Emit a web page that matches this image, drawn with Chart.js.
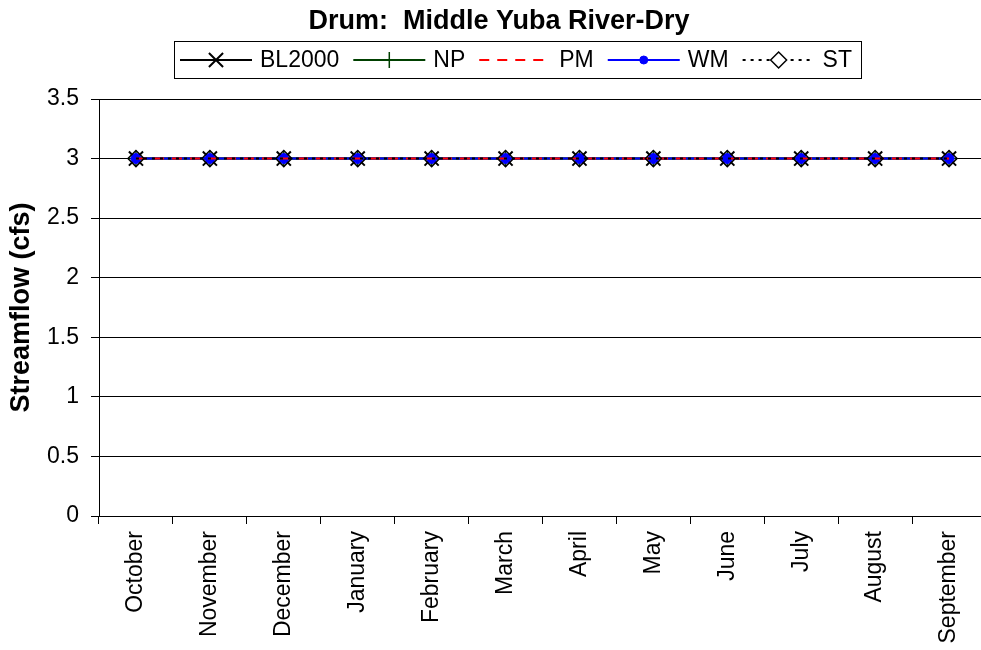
<!DOCTYPE html>
<html><head><meta charset="utf-8">
<script src="https://cdn.jsdelivr.net/npm/chart.js@4/dist/chart.umd.min.js"></script>
<style>html,body{margin:0;padding:0;overflow:hidden;background:#fff}#wrap{width:998px;height:650px}</style>
</head><body><div id="wrap"><canvas id="c" width="998" height="650"></canvas></div>
<script>
const titleText = 'Drum:  Middle Yuba River-Dry';
const yAxisTitle = 'Streamflow (cfs)';
const months = ['October','November','December','January','February','March','April','May','June','July','August','September'];
const seriesNames = ['BL2000','NP','PM','WM','ST'];
const bl2000 = [3,3,3,3,3,3,3,3,3,3,3,3];
const np = [3,3,3,3,3,3,3,3,3,3,3,3];
const pm = [3,3,3,3,3,3,3,3,3,3,3,3];
const wm = [3,3,3,3,3,3,3,3,3,3,3,3];
const st = [3,3,3,3,3,3,3,3,3,3,3,3];
const yTicks = [0,0.5,1,1.5,2,2.5,3,3.5];

const FONT = '"Liberation Sans", Arial, sans-serif';

const datasets = [
  {label: seriesNames[0], data: bl2000, borderColor:'#000', backgroundColor:'#000', borderWidth:2, pointStyle:'crossRot', pointRadius:10, pointBorderWidth:2, order:5},
  {label: seriesNames[1], data: np, borderColor:'#004000', backgroundColor:'#004000', borderWidth:2, pointStyle:'cross', pointRadius:8, pointBorderWidth:1.5, order:4},
  {label: seriesNames[2], data: pm, borderColor:'#ff0000', backgroundColor:'#ff0000', borderWidth:2, borderDash:[10,8], pointRadius:0, order:2},
  {label: seriesNames[3], data: wm, borderColor:'#0000ff', backgroundColor:'#0000ff', borderWidth:2, pointStyle:'circle', pointRadius:5, pointBorderWidth:1, order:3},
  {label: seriesNames[4], data: st, borderColor:'#000', backgroundColor:'rgba(0,0,0,0)', borderWidth:2, borderDash:[3,5], pointStyle:'rectRot', pointRadius:8, pointBorderWidth:1.5, order:1}
];

const legendPlugin = {
  id:'excelLegend',
  afterDraw(chart){
    const ctx = chart.ctx;
    ctx.save();
    ctx.font = '23px ' + FONT;
    const lineLen = 72, gapText = 8, gapItem = 14, boxTop = 41, boxH = 37, padL = 6, padR = 9;
    const widths = chart.data.datasets.map(d => ctx.measureText(d.label).width);
    let total = padL + padR;
    widths.forEach(w => total += lineLen + gapText + w + gapItem);
    total -= gapItem;
    const left = 174;
    ctx.strokeStyle = '#000'; ctx.lineWidth = 1;
    ctx.strokeRect(left+0.5, boxTop+0.5, total, boxH);
    let x = left + padL;
    const cy = boxTop + boxH/2 + 0.5;
    chart.data.datasets.forEach((d,i) => {
      ctx.save();
      ctx.strokeStyle = d.borderColor; ctx.lineWidth = d.borderWidth;
      ctx.setLineDash(d.borderDash || []);
      ctx.beginPath(); ctx.moveTo(x, cy); ctx.lineTo(x+lineLen, cy); ctx.stroke();
      ctx.setLineDash([]);
      if (d.pointRadius > 0) {
        ctx.fillStyle = d.pointStyle === 'rectRot' ? '#fff' : d.backgroundColor;
        ctx.strokeStyle = d.borderColor;
        ctx.lineWidth = d.pointBorderWidth;
        Chart.helpers.drawPoint(ctx, {pointStyle:d.pointStyle, radius:d.pointRadius - (d.pointStyle==='circle'?1:0), borderWidth:d.pointBorderWidth, rotation:0}, x+lineLen/2, cy);
      }
      ctx.restore();
      ctx.fillStyle = '#000'; ctx.textBaseline = 'middle'; ctx.textAlign='left';
      ctx.fillText(d.label, x + lineLen + gapText, cy+1);
      x += lineLen + gapText + widths[i] + gapItem;
    });
    ctx.restore();
  }
};

new Chart(document.getElementById('c'), {
  type:'line',
  data:{labels: months, datasets},
  plugins:[legendPlugin],
  options:{
    responsive:false, animation:false, devicePixelRatio:1,
    layout:{padding:{left:0,right:0,top:0,bottom:0}},
    plugins:{
      legend:{display:false},
      tooltip:{enabled:false},
      title:{display:true, text:titleText, color:'#000', font:{family:FONT, size:27, weight:'bold', lineHeight:1.2}, padding:{top:5, bottom:61.6}}
    },
    scales:{
      x:{
        offset:true,
        grid:{display:true, drawOnChartArea:false, drawTicks:true, tickLength:8, offset:true, color:'#000'},
        border:{display:true, color:'#000', width:1},
        ticks:{color:'#000', font:{family:FONT, size:23}, minRotation:90, maxRotation:90, autoSkip:false, padding:7},
        afterFit(s){ s.height = 650 - 516; }
      },
      y:{
        min:0, max:3.5,
        afterBuildTicks(s){ s.ticks = yTicks.map(v => ({value:v})); },
        grid:{color:'#000', lineWidth:1, tickLength:8, drawTicks:true},
        border:{display:true, color:'#000', width:1},
        ticks:{color:'#000', font:{family:FONT, size:23}, padding:12, callback:v=>String(v)},
        title:{display:true, text:yAxisTitle, color:'#000', font:{family:FONT, size:27, weight:'bold'}, padding:{top:5,bottom:4}},
        afterFit(s){ s.width = 99; }
      }
    }
  }
});
</script>
</body></html>
